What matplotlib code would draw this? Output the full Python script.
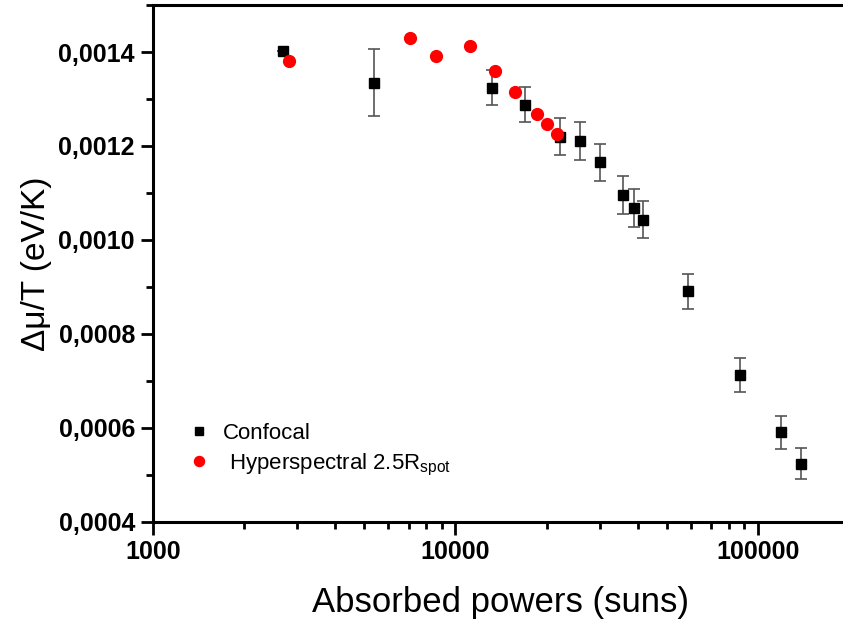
import matplotlib
matplotlib.use('Agg')
import matplotlib.pyplot as plt
from matplotlib.ticker import FuncFormatter, FixedLocator, LogLocator, MultipleLocator, NullFormatter

plt.rcParams['font.family'] = ['Liberation Sans', 'DejaVu Sans']

# Confocal data (squares with error bars)
conf_x = [2680, 5390, 13230, 16930, 22080, 25880, 29990, 35920, 38950, 41690, 58660, 87200, 118900, 139300]
conf_y = [0.001402, 0.001335, 0.001324, 0.001288, 0.001220, 0.001210, 0.001165, 0.001095, 0.001068,
          0.001043, 0.000890, 0.000712, 0.000590, 0.000523]
conf_err = [0.0, 0.000072, 0.000037, 0.000038, 0.000039, 0.000040, 0.000040, 0.000040, 0.000040,
            0.000040, 0.000038, 0.000036, 0.000035, 0.000033]

# Hyperspectral data (red dots)
hyp_x = [2820, 7100, 8590, 11180, 13530, 15740, 18620, 20030, 21680]
hyp_y = [0.001380, 0.001430, 0.001391, 0.001413, 0.001360, 0.001314, 0.001267, 0.001247, 0.001225]

fig = plt.figure(figsize=(8.43, 6.26), dpi=100)
ax = fig.add_axes([0.1815, 0.1669, 0.8256, 0.825])

ax.errorbar(conf_x, conf_y, yerr=conf_err, fmt='none', ecolor='#555555', elinewidth=1.2,
            capsize=4, capthick=1.2, zorder=2)
ax.plot(conf_x, conf_y, 's', color='black', markersize=7.5, zorder=3, label='Confocal')
ax.plot(hyp_x, hyp_y, 'o', color='#ff0000', markersize=8.5, zorder=4,
        label=r' Hyperspectral 2.5R$_{\mathregular{spot}}$')

ax.set_xscale('log')
ax.set_xlim(1000, 200000)
ax.set_ylim(0.0004, 0.0015)

ax.xaxis.set_major_locator(FixedLocator([1000, 10000, 100000]))
ax.xaxis.set_major_formatter(FuncFormatter(lambda v, p: f"{int(v)}"))
ax.xaxis.set_minor_locator(LogLocator(base=10, subs=range(2, 10)))
ax.xaxis.set_minor_formatter(NullFormatter())

ax.yaxis.set_major_locator(FixedLocator([0.0004, 0.0006, 0.0008, 0.0010, 0.0012, 0.0014]))
ax.yaxis.set_major_formatter(FuncFormatter(lambda v, p: f"{v:.4f}".replace('.', ',')))
ax.yaxis.set_minor_locator(MultipleLocator(0.0001))

for lab in ax.get_xticklabels() + ax.get_yticklabels():
    lab.set_fontweight('bold')
ax.tick_params(axis='both', which='major', labelsize=18, width=2, length=9, direction='out', pad=4)
ax.tick_params(axis='both', which='minor', width=2, length=5, direction='out')

for s in ['left', 'bottom', 'top']:
    ax.spines[s].set_linewidth(2.2)
ax.spines['right'].set_visible(False)

ax.set_xlabel('Absorbed powers (suns)', fontsize=25, labelpad=16)
ax.set_ylabel('Δμ/T (eV/K)', fontsize=24, labelpad=5)

ax.legend(loc='lower left', bbox_to_anchor=(0.021, 0.046), frameon=False, fontsize=16,
          markerscale=0.85, handletextpad=0.6, labelspacing=0.35, handlelength=1.0)

fig.savefig('out.png', dpi=100)
